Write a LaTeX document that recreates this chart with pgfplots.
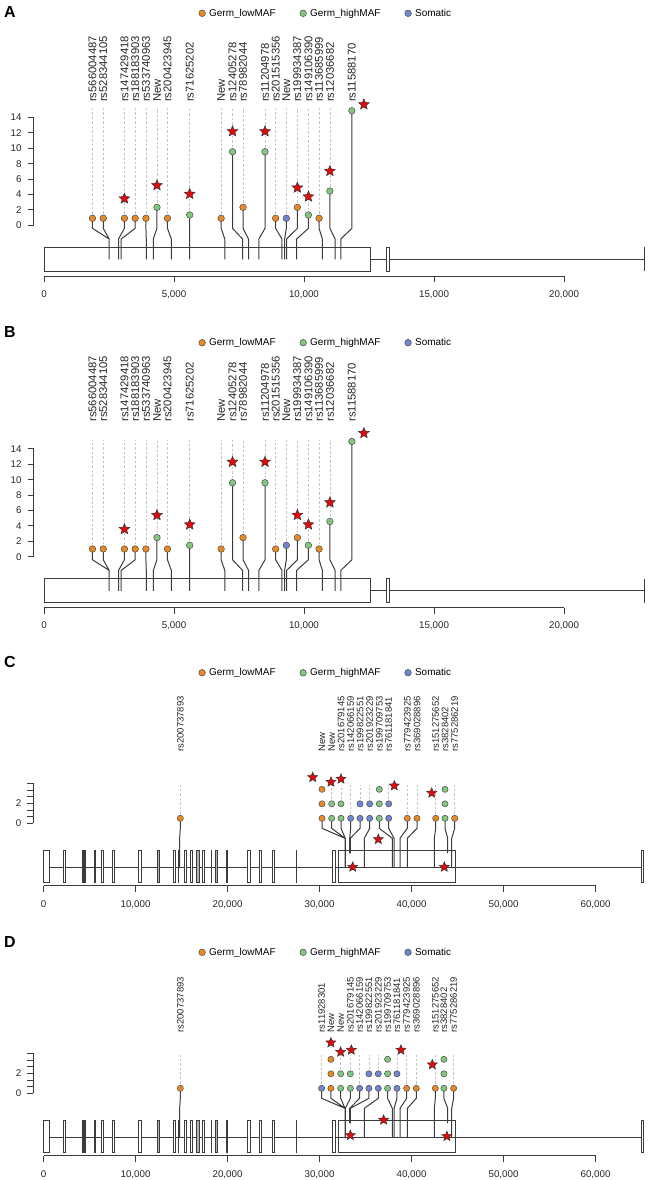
\documentclass[border=0pt]{standalone}
\usepackage{fontspec}
\setmainfont{Liberation Sans}
\usepackage{pgfplots}
\pgfplotsset{compat=1.18}

\definecolor{cOr}{RGB}{232,138,36}
\definecolor{cGr}{RGB}{130,198,128}
\definecolor{cBl}{RGB}{112,134,206}
\definecolor{cSt}{RGB}{228,10,10}
\definecolor{cLn}{RGB}{60,60,60}
\definecolor{cDs}{RGB}{195,195,195}

\pgfdeclareplotmark{fstar}{%
  \pgfpathmoveto{\pgfpointpolar{90}{\pgfplotmarksize}}%
  \pgfpathlineto{\pgfpointpolar{126}{0.45\pgfplotmarksize}}%
  \pgfpathlineto{\pgfpointpolar{162}{\pgfplotmarksize}}%
  \pgfpathlineto{\pgfpointpolar{198}{0.45\pgfplotmarksize}}%
  \pgfpathlineto{\pgfpointpolar{234}{\pgfplotmarksize}}%
  \pgfpathlineto{\pgfpointpolar{270}{0.45\pgfplotmarksize}}%
  \pgfpathlineto{\pgfpointpolar{306}{\pgfplotmarksize}}%
  \pgfpathlineto{\pgfpointpolar{342}{0.45\pgfplotmarksize}}%
  \pgfpathlineto{\pgfpointpolar{18}{\pgfplotmarksize}}%
  \pgfpathlineto{\pgfpointpolar{54}{0.45\pgfplotmarksize}}%
  \pgfpathclose
  \pgfusepathqfillstroke}

\pgfplotsset{
  lolli/.style={
    scale only axis, clip=false,
    axis x line*=bottom, axis y line*=left,
    axis line style={draw=none},
    tick align=outside, major tick length=6bp,
    tick style={cLn, line width=0.8bp},
    unbounded coords=jump,
    scaled x ticks=false, scaled y ticks=false,
    /pgf/number format/assume math mode=true,
    ticklabel style={font=\fontsize{9.8}{11}\selectfont, text=black!85},
    xticklabel style={yshift=-5bp},
    yticklabel style={xshift=-2.5bp},
    legend columns=3,
    legend style={draw=none, fill=none, inner sep=0pt, anchor=west,
      font=\fontsize{10}{12}\selectfont,
      /tikz/every odd column/.append style={column sep=1.5bp},
      /tikz/every even column/.append style={column sep=22bp}},
    legend cell align=left,
    legend image code/.code={\draw[##1] (0bp,0bp) circle (3.3bp);},
  },
  axln/.style={cLn, line width=0.8bp, mark=none},
  stem/.style={cLn, line width=1bp, mark=none},
  dsh/.style={cDs, line width=0.7bp, dash pattern=on 2.5bp off 2bp, mark=none},
  gene/.style={cLn, line width=0.9bp, mark=none},
  dotO/.style={only marks, mark=*, mark size=#1, mark options={fill=cOr, draw=black!70, line width=0.5bp}},
  dotG/.style={only marks, mark=*, mark size=#1, mark options={fill=cGr, draw=black!70, line width=0.5bp}},
  dotB/.style={only marks, mark=*, mark size=#1, mark options={fill=cBl, draw=black!70, line width=0.5bp}},
  stars/.style={only marks, mark=fstar, mark size=#1, mark options={fill=cSt, draw=black!80, line width=0.5bp}},
  labs/.style={draw=none, mark=none, nodes near coords, point meta=explicit symbolic,
    nodes near coords style={rotate=90, anchor=west, inner sep=0pt, font=\fontsize{#1}{12}\selectfont, text=black!85}},
}

\newcommand{\legendABC}{%
  \addlegendimage{fill=cOr, draw=black!70, line width=0.5bp}\addlegendentry{Germ\_lowMAF}
  \addlegendimage{fill=cGr, draw=black!70, line width=0.5bp}\addlegendentry{Germ\_highMAF}
  \addlegendimage{fill=cBl, draw=black!70, line width=0.5bp}\addlegendentry{Somatic}}

\newcommand{\exC}[3]{\addplot[gene, fill=#3] coordinates {(#1,-2.67) (#2,-2.67) (#2,-5.94) (#1,-5.94) (#1,-2.67)};}

\newcommand{\geneC}{%
  \addplot[gene] coordinates {(0,-4.37) (65100,-4.37)};
  \exC{0}{700}{white}
  \exC{2120}{2370}{white}
  \exC{4180}{4370}{gray!70}
  \exC{4470}{4530}{white}
  \exC{5570}{5630}{white}
  \exC{6250}{6500}{white}
  \exC{7480}{7740}{white}
  \exC{10350}{10600}{white}
  \exC{12340}{12590}{gray!60}
  \exC{14080}{14330}{white}
  \exC{14660}{14720}{white}
  \exC{15310}{15560}{white}
  \exC{16000}{16220}{white}
  \exC{16650}{16930}{gray!60}
  \exC{17230}{17480}{white}
  \exC{18210}{18270}{white}
  \exC{18640}{18890}{gray!60}
  \exC{19920}{19980}{white}
  \exC{22190}{22450}{white}
  \exC{23420}{23680}{white}
  \exC{24870}{25130}{white}
  \exC{27450}{27510}{white}
  \exC{31420}{31720}{white}
  \exC{32040}{44800}{none}
  \exC{64950}{65250}{white}}

\newcommand{\geneA}{%
  \addplot[gene] coordinates {(12570,-4.43) (23100,-4.43)};
  \addplot[gene, fill=white] coordinates {(0,-2.85) (12570,-2.85) (12570,-6.0) (0,-6.0) (0,-2.85)};
  \addplot[gene, fill=white] coordinates {(13170,-2.85) (13300,-2.85) (13300,-6.0) (13170,-6.0) (13170,-2.85)};
  \addplot[gene] coordinates {(23100,-2.85) (23100,-6.0)};}

\begin{document}
\begin{tikzpicture}
\useasboundingbox (0,0) rectangle (648bp,-1180bp);

% ================= Panel A =================
\begin{axis}[lolli, at={(33.6bp,-276.1bp)}, anchor=south west,
  width=613.6bp, height=175.56bp, xmin=-400, xmax=23200, ymin=-6.6, ymax=16.2,
  xtick={0,5000,10000,15000,20000}, xticklabels={0,{5,000},{10,000},{15,000},{20,000}},
  ytick={0,2,4,6,8,10,12,14},
  legend style={at={(axis description cs:0.2686,1.4969)}}]
\legendABC
\addplot[axln] coordinates {(-400,0) (-400,14)};
\addplot[axln] coordinates {(0,-6.6) (20000,-6.6)};
\geneA
\addplot[dsh] coordinates {
(1865,0.91) (1865,15.2) (nan,nan) (2279,0.91) (2279,15.2) (nan,nan)
(3093,0.91) (3093,15.2) (nan,nan) (3507,0.91) (3507,15.2) (nan,nan)
(3921,0.91) (3921,15.2) (nan,nan) (4345,2.33) (4345,15.2) (nan,nan)
(4749,0.91) (4749,15.2) (nan,nan) (5604,1.34) (5604,15.2) (nan,nan)
(6813,0.91) (6813,15.2) (nan,nan) (7251,9.55) (7251,15.2) (nan,nan)
(7655,2.33) (7655,15.2) (nan,nan) (8500,9.55) (8500,15.2) (nan,nan)
(8909,0.91) (8909,15.2) (nan,nan) (9320,0.91) (9320,15.2) (nan,nan)
(9745,2.33) (9745,15.2) (nan,nan) (10169,1.34) (10169,15.2) (nan,nan)
(10579,0.91) (10579,15.2) (nan,nan) (10996,4.45) (10996,15.2)};
\addplot[stem] coordinates {
(1865,0.91) (1865,-0.4) (2507,-1.78) (2507,-4.43) (nan,nan)
(2279,0.91) (2279,-0.4) (2507,-1.78) (2507,-4.43) (nan,nan)
(3093,0.91) (3093,-0.4) (2866,-1.78) (2866,-4.43) (nan,nan)
(3507,0.91) (3507,-0.4) (2970,-1.78) (2970,-4.43) (nan,nan)
(3921,0.91) (3921,-0.4) (3934,-1.78) (3934,-4.43) (nan,nan)
(4345,2.33) (4345,-0.4) (4204,-1.78) (4204,-4.43) (nan,nan)
(4749,0.91) (4749,-0.4) (4898,-1.78) (4898,-4.43) (nan,nan)
(5604,1.34) (5604,-0.4) (5604,-1.78) (5604,-4.43) (nan,nan)
(6813,0.91) (6813,-0.4) (6954,-1.78) (6954,-4.43) (nan,nan)
(7251,9.55) (7251,-0.4) (7636,-1.78) (7636,-4.43) (nan,nan)
(7655,2.33) (7655,-0.4) (7867,-1.78) (7867,-4.43) (nan,nan)
(8500,9.55) (8500,-0.4) (8265,-1.78) (8265,-4.43) (nan,nan)
(8909,0.91) (8909,-0.4) (9152,-1.78) (9152,-4.43) (nan,nan)
(9320,0.91) (9320,-0.4) (9255,-1.78) (9255,-4.43) (nan,nan)
(9745,2.33) (9745,-0.4) (9332,-1.78) (9332,-4.43) (nan,nan)
(10169,1.34) (10169,-0.4) (9718,-1.78) (9718,-4.43) (nan,nan)
(10579,0.91) (10579,-0.4) (10708,-1.78) (10708,-4.43) (nan,nan)
(10996,4.45) (10996,-0.4) (11197,-1.78) (11197,-4.43) (nan,nan)
(11841,14.87) (11841,-0.4) (11415,-1.78) (11415,-4.43)};
\addplot[dotO=3.3bp] coordinates {(1865,0.91) (2279,0.91) (3093,0.91) (3507,0.91) (3921,0.91) (4749,0.91) (6813,0.91) (7655,2.33) (8909,0.91) (9745,2.33) (10579,0.91)};
\addplot[dotG=3.3bp] coordinates {(4345,2.33) (5604,1.34) (7251,9.55) (8500,9.55) (10169,1.34) (10996,4.45) (11841,14.87)};
\addplot[dotB=3.3bp] coordinates {(9320,0.91)};
\addplot[stars=5.6bp] coordinates {(3093,3.46) (4345,5.19) (5604,4.06) (7251,12.19) (8500,12.19) (9745,4.88) (10169,3.72) (10996,7.04) (12303,15.69)};
\addplot[labs=11.3] coordinates {
(1865,16.0) [rs566004487] (2279,16.0) [rs528344105] (3093,16.0) [rs147429418]
(3507,16.0) [rs188183903] (3921,16.0) [rs533740963] (4345,16.0) [New]
(4749,16.0) [rs200423945] (5604,16.0) [rs71625202] (6813,16.0) [New]
(7251,16.0) [rs12405278] (7655,16.0) [rs78982044] (8500,16.0) [rs11204978]
(8909,16.0) [rs201515356] (9320,16.0) [New] (9745,16.0) [rs199934387]
(10169,16.0) [rs149106390] (10579,16.0) [rs113685999] (10996,16.0) [rs12036682]
(11841,16.0) [rs11588170]};
\end{axis}

% ================= Panel B =================
\begin{axis}[lolli, at={(33.6bp,-607.5bp)}, anchor=south west,
  width=613.6bp, height=187.11bp, xmin=-400, xmax=23200, ymin=-6.6, ymax=17.7,
  xtick={0,5000,10000,15000,20000}, xticklabels={0,{5,000},{10,000},{15,000},{20,000}},
  ytick={0,2,4,6,8,10,12,14},
  legend style={at={(axis description cs:0.2686,1.4152)}}]
\legendABC
\addplot[axln] coordinates {(-400,0) (-400,14)};
\addplot[axln] coordinates {(0,-6.6) (20000,-6.6)};
\geneA
\addplot[dsh] coordinates {
(1865,1.0) (1865,15.2) (nan,nan) (2279,1.0) (2279,15.2) (nan,nan)
(3093,1.0) (3093,15.2) (nan,nan) (3507,1.0) (3507,15.2) (nan,nan)
(3921,1.0) (3921,15.2) (nan,nan) (4345,2.48) (4345,15.2) (nan,nan)
(4749,1.0) (4749,15.2) (nan,nan) (5604,1.48) (5604,15.2) (nan,nan)
(6813,1.0) (6813,15.2) (nan,nan) (7251,9.6) (7251,15.2) (nan,nan)
(7655,2.48) (7655,15.2) (nan,nan) (8500,9.6) (8500,15.2) (nan,nan)
(8909,1.0) (8909,15.2) (nan,nan) (9320,1.48) (9320,15.2) (nan,nan)
(9745,2.48) (9745,15.2) (nan,nan) (10169,1.48) (10169,15.2) (nan,nan)
(10579,1.0) (10579,15.2) (nan,nan) (10996,4.57) (10996,15.2)};
\addplot[stem] coordinates {
(1865,1.0) (1865,-0.4) (2507,-1.78) (2507,-4.43) (nan,nan)
(2279,1.0) (2279,-0.4) (2507,-1.78) (2507,-4.43) (nan,nan)
(3093,1.0) (3093,-0.4) (2866,-1.78) (2866,-4.43) (nan,nan)
(3507,1.0) (3507,-0.4) (2970,-1.78) (2970,-4.43) (nan,nan)
(3921,1.0) (3921,-0.4) (3934,-1.78) (3934,-4.43) (nan,nan)
(4345,2.48) (4345,-0.4) (4204,-1.78) (4204,-4.43) (nan,nan)
(4749,1.0) (4749,-0.4) (4898,-1.78) (4898,-4.43) (nan,nan)
(5604,1.48) (5604,-0.4) (5604,-1.78) (5604,-4.43) (nan,nan)
(6813,1.0) (6813,-0.4) (6954,-1.78) (6954,-4.43) (nan,nan)
(7251,9.6) (7251,-0.4) (7636,-1.78) (7636,-4.43) (nan,nan)
(7655,2.48) (7655,-0.4) (7867,-1.78) (7867,-4.43) (nan,nan)
(8500,9.6) (8500,-0.4) (8265,-1.78) (8265,-4.43) (nan,nan)
(8909,1.0) (8909,-0.4) (9152,-1.78) (9152,-4.43) (nan,nan)
(9320,1.48) (9320,-0.4) (9255,-1.78) (9255,-4.43) (nan,nan)
(9745,2.48) (9745,-0.4) (9332,-1.78) (9332,-4.43) (nan,nan)
(10169,1.48) (10169,-0.4) (9718,-1.78) (9718,-4.43) (nan,nan)
(10579,1.0) (10579,-0.4) (10708,-1.78) (10708,-4.43) (nan,nan)
(10996,4.57) (10996,-0.4) (11197,-1.78) (11197,-4.43) (nan,nan)
(11841,14.96) (11841,-0.4) (11415,-1.78) (11415,-4.43)};
\addplot[dotO=3.3bp] coordinates {(1865,1.0) (2279,1.0) (3093,1.0) (3507,1.0) (3921,1.0) (4749,1.0) (6813,1.0) (7655,2.48) (8909,1.0) (9745,2.48) (10579,1.0)};
\addplot[dotG=3.3bp] coordinates {(4345,2.48) (5604,1.48) (7251,9.6) (8500,9.6) (10169,1.48) (10996,4.57) (11841,14.96)};
\addplot[dotB=3.3bp] coordinates {(9320,1.48)};
\addplot[stars=5.6bp] coordinates {(3093,3.57) (4345,5.39) (5604,4.17) (7251,12.3) (8500,12.3) (9745,5.4) (10169,4.17) (10996,7.04) (12303,16.04)};
\addplot[labs=11.3] coordinates {
(1865,17.5) [rs566004487] (2279,17.5) [rs528344105] (3093,17.5) [rs147429418]
(3507,17.5) [rs188183903] (3921,17.5) [rs533740963] (4345,17.5) [New]
(4749,17.5) [rs200423945] (5604,17.5) [rs71625202] (6813,17.5) [New]
(7251,17.5) [rs12405278] (7655,17.5) [rs78982044] (8500,17.5) [rs11204978]
(8909,17.5) [rs201515356] (9320,17.5) [New] (9745,17.5) [rs199934387]
(10169,17.5) [rs149106390] (10579,17.5) [rs113685999] (10996,17.5) [rs12036682]
(11841,17.5) [rs11588170]};
\end{axis}

% ================= Panel C =================
\begin{axis}[lolli, at={(33.29bp,-885.7bp)}, anchor=south west,
  width=614.65bp, height=134.4bp, xmin=-1110, xmax=65700, ymin=-6.24, ymax=7.2,
  xtick={0,10000,20000,30000,40000,50000,60000},
  xticklabels={0,{10,000},{20,000},{30,000},{40,000},{50,000},{60,000}},
  ytick={0,0.6667,1.3333,2,2.6667,3.3333,4}, yticklabels={0,{},{},2,{},{},{}},
  legend style={at={(axis description cs:0.2686,1.5848)}}]
\legendABC
\addplot[axln] coordinates {(-1110,0) (-1110,4)};
\addplot[axln] coordinates {(0,-6.24) (60000,-6.24)};
\geneC
\addplot[dsh] coordinates {
(14870,0.5) (14870,3.8) (nan,nan) (30272,3.4) (30272,3.8) (nan,nan)
(31326,1.95) (31326,3.8) (nan,nan) (32337,1.95) (32337,3.8) (nan,nan)
(33391,0.5) (33391,3.8) (nan,nan) (34402,1.95) (34402,3.8) (nan,nan)
(35457,1.95) (35457,3.8) (nan,nan) (36500,3.4) (36500,3.8) (nan,nan)
(37522,1.95) (37522,3.8) (nan,nan) (39543,0.5) (39543,3.8) (nan,nan)
(40598,0.5) (40598,3.8) (nan,nan) (42630,0.5) (42630,3.8) (nan,nan)
(43641,3.4) (43641,3.8) (nan,nan) (44696,0.5) (44696,3.8)};
\addplot[stem] coordinates {
(14870,0.5) (14870,-0.5) (14800,-1.5) (14800,-4.37) (nan,nan)
(30272,0.5) (30272,-0.5) (32772,-1.5) (32772,-4.37) (nan,nan)
(31326,0.5) (31326,-0.5) (32772,-1.5) (32772,-4.37) (nan,nan)
(32337,0.5) (32337,-0.5) (32800,-1.5) (32800,-4.37) (nan,nan)
(33391,0.5) (33391,-0.5) (33283,-1.5) (33283,-3.0) (nan,nan)
(34402,0.5) (34402,-0.5) (33350,-1.5) (33350,-3.0) (nan,nan)
(35457,0.5) (35457,-0.5) (34870,-1.5) (34870,-4.37) (nan,nan)
(36500,0.5) (36500,-0.5) (37913,-1.5) (37913,-4.37) (nan,nan)
(37522,0.5) (37522,-0.5) (38098,-1.5) (38098,-4.37) (nan,nan)
(39543,0.5) (39543,-0.5) (38750,-1.5) (38750,-4.37) (nan,nan)
(40598,0.5) (40598,-0.5) (39543,-1.5) (39543,-4.37) (nan,nan)
(42630,0.5) (42630,-0.5) (42478,-1.5) (42478,-4.37) (nan,nan)
(43641,0.5) (43641,-0.5) (43935,-1.5) (43935,-3.0) (nan,nan)
(44696,0.5) (44696,-0.5) (44370,-1.5) (44370,-4.37)};
\addplot[dotO=3.1bp] coordinates {(14870,0.5) (30272,0.5) (30272,1.95) (30272,3.4) (39543,0.5) (40598,0.5) (42630,0.5) (44696,0.5)};
\addplot[dotG=3.1bp] coordinates {(31326,0.5) (31326,1.95) (32337,0.5) (32337,1.95) (36500,0.5) (36500,1.95) (36500,3.4) (43641,0.5) (43641,1.95) (43641,3.4)};
\addplot[dotB=3.1bp] coordinates {(33391,0.5) (34402,0.5) (34402,1.95) (35457,0.5) (35457,1.95) (37522,0.5) (37522,1.95)};
\addplot[stars=5.2bp] coordinates {(29261,4.6) (31250,4.13) (32337,4.43) (38130,3.76) (42196,3.03) (36391,-1.6) (33609,-4.37) (43565,-4.37)};
\addplot[labs=9.5] coordinates {
(14870,7.16) [rs200737893] (30272,7.16) [New] (31326,7.16) [New]
(32337,7.16) [rs201679145] (33391,7.16) [rs142066159] (34402,7.16) [rs199822551]
(35457,7.16) [rs201923229] (36500,7.16) [rs199709753] (37522,7.16) [rs761181841]
(39543,7.16) [rs779423925] (40598,7.16) [rs369028896] (42630,7.16) [rs151275652]
(43641,7.16) [rs3828402] (44696,7.16) [rs775286219]};
\end{axis}

% ================= Panel D =================
\begin{axis}[lolli, at={(33.29bp,-1155.7bp)}, anchor=south west,
  width=614.65bp, height=134.4bp, xmin=-1110, xmax=65700, ymin=-6.24, ymax=7.2,
  xtick={0,10000,20000,30000,40000,50000,60000},
  xticklabels={0,{10,000},{20,000},{30,000},{40,000},{50,000},{60,000}},
  ytick={0,0.6667,1.3333,2,2.6667,3.3333,4}, yticklabels={0,{},{},2,{},{},{}},
  legend style={at={(axis description cs:0.2686,1.5134)}}]
\legendABC
\addplot[axln] coordinates {(-1110,0) (-1110,4)};
\addplot[axln] coordinates {(0,-6.24) (60000,-6.24)};
\geneC
\addplot[dsh] coordinates {
(14870,0.5) (14870,3.8) (nan,nan) (30230,0.5) (30230,3.8) (nan,nan)
(31240,3.4) (31240,3.8) (nan,nan) (32300,1.95) (32300,3.8) (nan,nan)
(33350,1.95) (33350,3.8) (nan,nan) (34360,0.5) (34360,3.8) (nan,nan)
(35370,1.95) (35370,3.8) (nan,nan) (36390,1.95) (36390,3.8) (nan,nan)
(37400,3.4) (37400,3.8) (nan,nan) (38420,1.95) (38420,3.8) (nan,nan)
(39470,0.5) (39470,3.8) (nan,nan) (40520,0.5) (40520,3.8) (nan,nan)
(42590,0.5) (42590,3.8) (nan,nan) (43520,3.4) (43520,3.8) (nan,nan)
(44580,0.5) (44580,3.8)};
\addplot[stem] coordinates {
(14870,0.5) (14870,-0.5) (14800,-1.5) (14800,-4.37) (nan,nan)
(30230,0.5) (30230,-0.5) (32772,-1.5) (32772,-4.37) (nan,nan)
(31240,0.5) (31240,-0.5) (32772,-1.5) (32772,-4.37) (nan,nan)
(32300,0.5) (32300,-0.5) (32772,-1.5) (32772,-4.37) (nan,nan)
(33350,0.5) (33350,-0.5) (32800,-1.5) (32800,-4.37) (nan,nan)
(34360,0.5) (34360,-0.5) (33283,-1.5) (33283,-3.0) (nan,nan)
(35370,0.5) (35370,-0.5) (33350,-1.5) (33350,-3.0) (nan,nan)
(36390,0.5) (36390,-0.5) (34870,-1.5) (34870,-4.37) (nan,nan)
(37400,0.5) (37400,-0.5) (37913,-1.5) (37913,-4.37) (nan,nan)
(38420,0.5) (38420,-0.5) (38098,-1.5) (38098,-4.37) (nan,nan)
(39470,0.5) (39470,-0.5) (38750,-1.5) (38750,-4.37) (nan,nan)
(40520,0.5) (40520,-0.5) (39543,-1.5) (39543,-4.37) (nan,nan)
(42590,0.5) (42590,-0.5) (42478,-1.5) (42478,-4.37) (nan,nan)
(43520,0.5) (43520,-0.5) (43935,-1.5) (43935,-3.0) (nan,nan)
(44580,0.5) (44580,-0.5) (44370,-1.5) (44370,-4.37)};
\addplot[dotO=3.1bp] coordinates {(14870,0.5) (31240,0.5) (31240,1.95) (31240,3.4) (39470,0.5) (40520,0.5) (42590,0.5) (44580,0.5)};
\addplot[dotG=3.1bp] coordinates {(32300,0.5) (32300,1.95) (33350,0.5) (33350,1.95) (37400,0.5) (37400,1.95) (37400,3.4) (43520,0.5) (43520,1.95) (43520,3.4)};
\addplot[dotB=3.1bp] coordinates {(30230,0.5) (34360,0.5) (35370,0.5) (35370,1.95) (36390,0.5) (36390,1.95) (38420,0.5) (38420,1.95)};
\addplot[stars=5.2bp] coordinates {(31240,5.07) (32296,4.13) (33460,4.33) (38850,4.33) (42263,2.87) (36970,-2.67) (33350,-4.2) (43850,-4.3)};
\addplot[labs=9.5] coordinates {
(14870,6.07) [rs200737893] (30230,6.07) [rs11928301] (31240,6.07) [New]
(32300,6.07) [New] (33350,6.07) [rs201679145] (34360,6.07) [rs142066159]
(35370,6.07) [rs199822551] (36390,6.07) [rs201923229] (37400,6.07) [rs199709753]
(38420,6.07) [rs761181841] (39470,6.07) [rs779423925] (40520,6.07) [rs369028896]
(42590,6.07) [rs151275652] (43520,6.07) [rs3828402] (44580,6.07) [rs775286219]};
\end{axis}

\node[font=\bfseries\fontsize{16}{16}\selectfont] at (10bp,-12bp) {A};
\node[font=\bfseries\fontsize{16}{16}\selectfont] at (10bp,-332bp) {B};
\node[font=\bfseries\fontsize{16}{16}\selectfont] at (10bp,-662bp) {C};
\node[font=\bfseries\fontsize{16}{16}\selectfont] at (10bp,-942bp) {D};
\end{tikzpicture}
\end{document}
